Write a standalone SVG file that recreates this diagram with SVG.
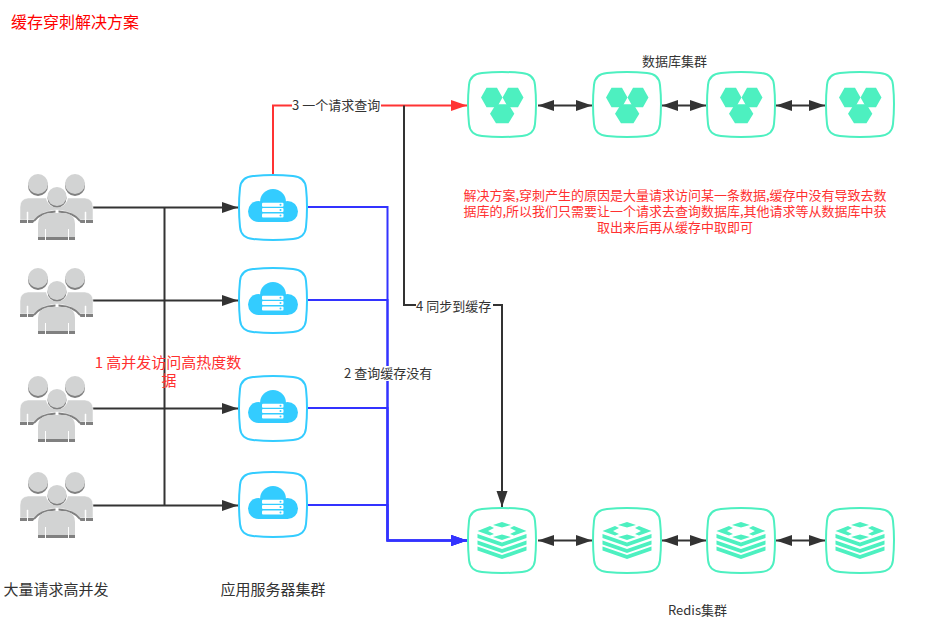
<svg xmlns="http://www.w3.org/2000/svg" width="938" height="625" viewBox="0 0 938 625">
<style>
text{font-family:"Noto Sans CJK SC","Liberation Sans",sans-serif;font-size:13px;fill:#333}
.r{fill:#ff3030}
.t{fill:#ff0000;font-size:16px}
.big{font-size:15px}
.m{text-anchor:middle}
.l{fill:none;stroke:#333;stroke-width:2}
.b{fill:none;stroke:#3333ff;stroke-width:2}
.f{fill:none;stroke:#ff3333;stroke-width:2}
.bg{fill:#fff}
</style>
<defs>
<marker id="ak" markerUnits="userSpaceOnUse" markerWidth="17" markerHeight="12" refX="16" refY="6" orient="auto-start-reverse"><path d="M0 .5L16 6L0 11.500Z" fill="#333"/></marker>
<marker id="ar" markerUnits="userSpaceOnUse" markerWidth="17" markerHeight="12" refX="16" refY="6" orient="auto"><path d="M0 .5L16 6L0 11.500Z" fill="#ff3333"/></marker>
<marker id="ab" markerUnits="userSpaceOnUse" markerWidth="17" markerHeight="12" refX="16" refY="6" orient="auto"><path d="M0 .5L16 6L0 11.500Z" fill="#3333ff"/></marker>
<path id="sq" d="M14 1Q34-1 54 1Q66 2 67 13Q69 32 67 52Q66 63 54 64Q34 66 14 64Q2 63 1 52Q-1 32 1 13Q2 2 14 1Z" fill="#fff" stroke-width="2"/>
<g id="users">
<circle cx="18" cy="12" r="10" fill="#808080"/><circle cx="55" cy="12" r="10" fill="#808080"/>
<circle cx="18" cy="10" r="10" fill="#d2d3d3"/><circle cx="55" cy="10" r="10" fill="#d2d3d3"/>
<path d="M0 46V33Q0 25 8 24H28Q30 30 37 33Q44 30 46 24H65Q73 25 73 33V46H66V38H65V46H59Q53 37 37 36Q21 37 15 46H8V38H7V46Z" fill="#d2d3d3" stroke="#fff" stroke-width=".5"/>
<path d="M0 46H7V49H0ZM8 46H15L13 49H8ZM59 46H65V49H60.500ZM66 46H73V49H66Z" fill="#808080"/>
<path d="M14 47Q20 38.500 35.500 37.500M38.500 37.500Q54 38.500 60 47" fill="none" stroke="#808080" stroke-width="2"/>
<circle cx="37" cy="22.500" r="11" fill="#fff"/><circle cx="37" cy="24" r="9.500" fill="#808080"/><circle cx="37" cy="22.500" r="9.500" fill="#d2d3d3"/>
<path d="M18 63V50Q18 41 28 39H46Q55 41 55 50V63H49V55H48V63H26V55H25V63Z" fill="#d2d3d3"/>
<path d="M18 63H25V66H18ZM26 63H48V66H26ZM49 63H55V66H49Z" fill="#808080"/>
</g>
<g id="server">
<use href="#sq" stroke="#33ccff"/>
<g fill="#33ccff"><circle cx="34" cy="27" r="13"/><circle cx="19.500" cy="36.500" r="10.500"/><circle cx="48.500" cy="36.500" r="10.500"/><rect x="19" y="30" width="30" height="17"/></g>
<g fill="#fff"><rect x="23" y="27.700" width="21.500" height="4" rx="1"/><rect x="23" y="33" width="21.500" height="4" rx="1"/><rect x="23" y="38.500" width="21.500" height="4" rx="1"/></g>
<g fill="#33ccff"><circle cx="41.500" cy="29.700" r="1"/><circle cx="41.500" cy="35" r="1"/><circle cx="41.500" cy="40.500" r="1"/></g>
</g>
<g id="db">
<use href="#sq" stroke="#4df0c0"/>
<g fill="#4df0c0"><path d="M13 25.500L18.500 15.700H29L34.500 25.500L29 35.300H18.500Z"/><path d="M34.500 25.500L40 15.700H50L55.500 25.500L50 35.300H40Z"/><path d="M22 41.800L28 32.300H40.500L46.300 41.800L40.500 51.300H28Z"/></g>
</g>
<g id="redis">
<use href="#sq" stroke="#4df0c0"/>
<g fill="#4df0c0">
<path d="M34 14L43 17L34 19.500L25 17ZM22 18L26 20L20 23L26 26L22 27.500L9.500 23ZM46 18L58.500 23L46 27.500L42 26L48 23L42 20ZM34 26.500L43 29L34 32L25 29Z"/>
<path d="M9.500 26L34 34.500L58.500 26V30L34 38.500L9.500 30Z"/>
<path d="M9.500 32.500L34 41L58.500 32.500V36.500L34 45L9.500 36.500Z"/>
<path d="M9.500 38.500L34 47L58.500 38.500V42.500L34 51L9.500 42.500Z"/>
</g>
</g>
</defs>
<g id="connectors">
<path class="l" d="M92 207.500H238" marker-end="url(#ak)"/>
<path class="l" d="M92 300.500H238" marker-end="url(#ak)"/>
<path class="l" d="M92 408.500H238" marker-end="url(#ak)"/>
<path class="l" d="M92 505.500H238" marker-end="url(#ak)"/>
<path class="l" d="M164.500 207V505"/>
<path class="b" d="M308 207H387.500V540.500H467" marker-end="url(#ab)"/>
<path class="b" d="M308 300H387.500V540.500H467" marker-end="url(#ab)"/>
<path class="b" d="M308 408H387.500V540.500H467" marker-end="url(#ab)"/>
<path class="b" d="M308 505H387.500V540.500H467" marker-end="url(#ab)"/>
<path class="f" d="M273 175V105.500H467" marker-end="url(#ar)"/>
<path class="l" d="M404 105.500V305H502V507" marker-end="url(#ak)"/>
<path class="l" d="M538 105.500H592" marker-start="url(#ak)" marker-end="url(#ak)"/>
<path class="l" d="M662 105.500H706" marker-start="url(#ak)" marker-end="url(#ak)"/>
<path class="l" d="M776 105.500H825" marker-start="url(#ak)" marker-end="url(#ak)"/>
<path class="l" d="M538 540.500H592" marker-start="url(#ak)" marker-end="url(#ak)"/>
<path class="l" d="M662 540.500H706" marker-start="url(#ak)" marker-end="url(#ak)"/>
<path class="l" d="M776 540.500H825" marker-start="url(#ak)" marker-end="url(#ak)"/>
</g>
<g id="connector-labels">
<rect class="bg" x="292" y="98" width="89" height="15"/><text x="292" y="110">3 一个请求查询</text>
<rect class="bg" x="416" y="298" width="77" height="15"/><text x="416" y="311">4 同步到缓存</text>
<rect class="bg" x="344" y="366" width="89" height="15"/><text x="344" y="378">2 查询缓存没有</text>
</g>
<g id="user1"><use href="#users" x="20" y="174"/></g>
<g id="user2"><use href="#users" x="20" y="268"/></g>
<g id="user3"><use href="#users" x="20" y="376"/></g>
<g id="user4"><use href="#users" x="20" y="472"/></g>
<g id="server1"><use href="#server" x="239" y="175"/></g>
<g id="server2"><use href="#server" x="239" y="268"/></g>
<g id="server3"><use href="#server" x="239" y="376"/></g>
<g id="server4"><use href="#server" x="239" y="472"/></g>
<g id="db1"><use href="#db" x="468" y="72"/></g>
<g id="db2"><use href="#db" x="593" y="72"/></g>
<g id="db3"><use href="#db" x="707" y="72"/></g>
<g id="db4"><use href="#db" x="826" y="72"/></g>
<g id="redis1"><use href="#redis" x="468" y="508"/></g>
<g id="redis2"><use href="#redis" x="593" y="508"/></g>
<g id="redis3"><use href="#redis" x="707" y="508"/></g>
<g id="redis4"><use href="#redis" x="826" y="508"/></g>
<text class="t" x="11" y="28">缓存穿刺解决方案</text>
<text x="642" y="66">数据库集群</text>
<text x="668" y="615">Redis集群</text>
<text class="big" x="3.500" y="595">大量请求高并发</text>
<text class="big" x="220.500" y="595">应用服务器集群</text>
<text class="r m big" y="368"><tspan x="168">1 高并发访问高热度数</tspan><tspan x="169" dy="18">据</tspan></text>
<text class="r m" y="200"><tspan x="675">解决方案,穿刺产生的原因是大量请求访问某一条数据,缓存中没有导致去数</tspan><tspan x="675" dy="16">据库的,所以我们只需要让一个请求去查询数据库,其他请求等从数据库中获</tspan><tspan x="675" dy="16">取出来后再从缓存中取即可</tspan></text>
</svg>
